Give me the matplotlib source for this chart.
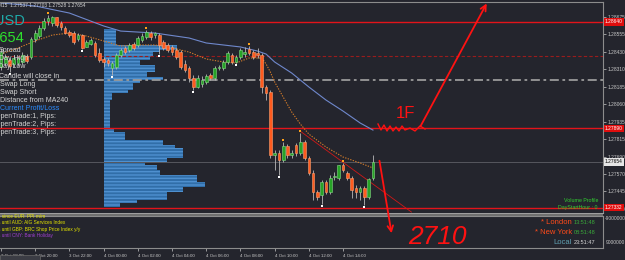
import numpy as np
import matplotlib.pyplot as plt
from matplotlib.patches import Rectangle

plt.rcParams['font.family'] = ['Liberation Sans', 'DejaVu Sans']

# GBPUSD M15 bars, 3 Oct 18:00 .. 4 Oct 15:45
opens = [1.28323, 1.28351, 1.28372, 1.28344, 1.28351, 1.28358, 1.28400, 1.28393, 1.28520, 1.28541,
         1.28598, 1.28647, 1.28633, 1.28675, 1.28633, 1.28598, 1.28569, 1.28562, 1.28520, 1.28548,
         1.28464, 1.28485, 1.28492, 1.28421, 1.28379, 1.28372, 1.28316, 1.28323, 1.28407, 1.28457,
         1.28442, 1.28485, 1.28478, 1.28513, 1.28534, 1.28562, 1.28548, 1.28548, 1.28499, 1.28478,
         1.28464, 1.28442, 1.28428, 1.28344, 1.28316, 1.28245, 1.28182, 1.28203, 1.28217, 1.28266,
         1.28245, 1.28316, 1.28316, 1.28358, 1.28407, 1.28358, 1.28393, 1.28414, 1.28450, 1.28428,
         1.28421, 1.28407, 1.28182, 1.28146, 1.27702, 1.27716, 1.27667, 1.27766, 1.27702, 1.27773,
         1.27716, 1.27794, 1.27681, 1.27575, 1.27441, 1.27420, 1.27512, 1.27441, 1.27547, 1.27540,
         1.27632, 1.27575, 1.27540, 1.27470, 1.27441, 1.27470, 1.27406, 1.27537]
highs = [1.28457, 1.28414, 1.28386, 1.28407, 1.28400, 1.28428, 1.28414, 1.28534, 1.28583, 1.28619,
         1.28668, 1.28689, 1.28682, 1.28675, 1.28647, 1.28612, 1.28583, 1.28576, 1.28562, 1.28555,
         1.28513, 1.28527, 1.28506, 1.28457, 1.28393, 1.28386, 1.28365, 1.28421, 1.28457, 1.28471,
         1.28492, 1.28499, 1.28541, 1.28562, 1.28583, 1.28576, 1.28569, 1.28562, 1.28513, 1.28492,
         1.28478, 1.28457, 1.28442, 1.28372, 1.28330, 1.28266, 1.28266, 1.28259, 1.28273, 1.28280,
         1.28330, 1.28337, 1.28372, 1.28435, 1.28421, 1.28407, 1.28457, 1.28464, 1.28471, 1.28442,
         1.28457, 1.28421, 1.28196, 1.28160, 1.27737, 1.27737, 1.27794, 1.27780, 1.27737, 1.27787,
         1.27857, 1.27808, 1.27695, 1.27596, 1.27455, 1.27526, 1.27526, 1.27561, 1.27582, 1.27632,
         1.27646, 1.27589, 1.27554, 1.27491, 1.27484, 1.27484, 1.27540, 1.27703]
lows = [1.28301, 1.28330, 1.28287, 1.28323, 1.28330, 1.28344, 1.28351, 1.28379, 1.28499, 1.28527,
        1.28583, 1.28619, 1.28612, 1.28605, 1.28583, 1.28555, 1.28534, 1.28485, 1.28506, 1.28450,
        1.28464, 1.28478, 1.28393, 1.28358, 1.28323, 1.28330, 1.28266, 1.28309, 1.28393, 1.28414,
        1.28428, 1.28442, 1.28464, 1.28499, 1.28520, 1.28513, 1.28527, 1.28414, 1.28442, 1.28428,
        1.28407, 1.28379, 1.28309, 1.28287, 1.28217, 1.28160, 1.28175, 1.28182, 1.28203, 1.28231,
        1.28231, 1.28301, 1.28301, 1.28344, 1.28344, 1.28351, 1.28379, 1.28393, 1.28407, 1.28379,
        1.28386, 1.28139, 1.28090, 1.27681, 1.27596, 1.27561, 1.27653, 1.27681, 1.27681, 1.27695,
        1.27702, 1.27667, 1.27561, 1.27385, 1.27385, 1.27357, 1.27427, 1.27427, 1.27526, 1.27526,
        1.27582, 1.27526, 1.27399, 1.27399, 1.27385, 1.27350, 1.27392, 1.27528]
closes = [1.28428, 1.28393, 1.28330, 1.28386, 1.28386, 1.28407, 1.28365, 1.28520, 1.28562, 1.28598,
          1.28647, 1.28668, 1.28675, 1.28619, 1.28605, 1.28562, 1.28548, 1.28499, 1.28548, 1.28457,
          1.28499, 1.28513, 1.28407, 1.28372, 1.28358, 1.28351, 1.28351, 1.28407, 1.28442, 1.28428,
          1.28478, 1.28457, 1.28527, 1.28541, 1.28569, 1.28534, 1.28562, 1.28478, 1.28457, 1.28442,
          1.28428, 1.28393, 1.28323, 1.28301, 1.28245, 1.28182, 1.28245, 1.28231, 1.28259, 1.28245,
          1.28316, 1.28323, 1.28358, 1.28421, 1.28358, 1.28393, 1.28442, 1.28428, 1.28421, 1.28393,
          1.28407, 1.28182, 1.28139, 1.27702, 1.27716, 1.27667, 1.27766, 1.27702, 1.27716, 1.27716,
          1.27794, 1.27681, 1.27575, 1.27441, 1.27406, 1.27512, 1.27441, 1.27540, 1.27554, 1.27632,
          1.27596, 1.27540, 1.27455, 1.27441, 1.27470, 1.27406, 1.27533, 1.27654]

up_fractals = [11, 34, 58, 66, 70, 80]
down_fractals = [2, 19, 26, 37, 45, 55, 65, 75, 85]

# moving averages, read at some bars
ma240_idx = [0, 8, 16, 24, 28, 36, 44, 48, 56, 60, 62, 64, 68, 72, 76, 80, 84, 87]
ma240_val = [1.28774, 1.28753, 1.28703, 1.28612, 1.28576, 1.28562, 1.28527, 1.28492, 1.28464,
             1.28435, 1.28414, 1.28358, 1.28280, 1.28182, 1.28090, 1.28012, 1.27928, 1.27878]
mafast_idx = [0, 4, 8, 12, 16, 20, 24, 28, 32, 36, 40, 44, 48, 52, 55, 58, 61, 62, 63, 64,
              66, 68, 70, 72, 76, 80, 84, 87]
mafast_val = [1.28414, 1.28457, 1.28506, 1.28548, 1.28562, 1.28541, 1.28506, 1.28471, 1.28478,
              1.28478, 1.28457, 1.28428, 1.28379, 1.28358, 1.28351, 1.28386, 1.28386, 1.28344,
              1.28287, 1.28217, 1.28111, 1.28005, 1.27921, 1.27850, 1.27759, 1.27688, 1.27646,
              1.27611]

# volume profile from day start (4 Oct 00:00 = bar 24)
vp_edges = [1.28591, 1.28478, 1.28442, 1.28428, 1.28393, 1.28372, 1.28337, 1.28287, 1.28252,
            1.28231, 1.28210, 1.28160, 1.28139, 1.28090, 1.27893, 1.27864, 1.27808, 1.27773,
            1.27752, 1.27681, 1.27653, 1.27632, 1.27596, 1.27561, 1.27512, 1.27477, 1.27441,
            1.27385, 1.27364, 1.27336]
vp_vol = [12, 73, 56, 49, 46, 36, 51, 43, 59, 36, 29, 24, 8, 6, 10, 21, 59, 71, 79, 63, 41,
          53, 56, 93, 101, 79, 63, 33, 16]
vp_start = 24

time_ticks = [0, 8, 16, 24, 32, 40, 48, 56, 64, 72, 80]
time_labels = ['3 Oct 18:00', '3 Oct 20:00', '3 Oct 22:00', '4 Oct 00:00', '4 Oct 02:00',
               '4 Oct 04:00', '4 Oct 06:00', '4 Oct 08:00', '4 Oct 10:00', '4 Oct 12:00',
               '4 Oct 14:00']
price_ticks = [1.28675, 1.28555, 1.28430, 1.28310, 1.28185, 1.28060, 1.27935, 1.27815,
               1.27690, 1.27570, 1.27445, 1.27320]

red_levels = [1.28640, 1.27890, 1.27332]
dashed_level = 1.28400
dashdot_level = 1.28231
bid = 1.27654
trend_x = [70, 96]
trend_y = [1.27870, 1.27300]

W, H = 625, 260
bg = '#24252d'
grey = '#8c8c8c'
txt = '#d6d6d6'
hand = '#ff1212'

fig = plt.figure(figsize=(W / 100, H / 100), dpi=100, facecolor=bg)


def box(x0, y0, x1, y1):
    return [x0 / W, 1 - y1 / H, (x1 - x0) / W, (y1 - y0) / H]


ax = fig.add_axes(box(0, 2, 603, 213))
ax.set_facecolor(bg)
ax.set_xlim(-0.23, 140.8)
ax.set_ylim(1.272934, 1.287809)

# volume profile
e = np.array(vp_edges)
ax.barh((e[:-1] + e[1:]) / 2, np.array(vp_vol) / 4.275, left=vp_start, height=e[:-1] - e[1:],
        color='#316ea8', edgecolor='#4f90cf', hatch='-----', linewidth=0, zorder=1)

# levels
for p in red_levels:
    ax.axhline(p, color='#e3141a', lw=1.0, zorder=2)
ax.axhline(dashed_level, color='#9a1c1c', lw=0.8, ls=(0, (3, 2)), zorder=2)
ax.axhline(dashdot_level, color='#9a9a9a', lw=1.3, ls=(0, (5, 2, 1.5, 2)), zorder=2)
ax.axhline(bid, color='#56575e', lw=0.7, zorder=2)

ax.plot(ma240_idx, ma240_val, color='#6f88cc', lw=0.8, zorder=2)
ax.plot(mafast_idx, mafast_val, color='#d07a2a', lw=0.8, ls=(0, (1.2, 1.2)), zorder=2)
ax.plot(trend_x, trend_y, color='#d01818', lw=0.6, zorder=2)

# candles
o, h, l, c = map(np.array, (opens, highs, lows, closes))
idx = np.arange(len(o))
up = c >= o
ax.vlines(idx, l, h, color='#b8b8b8', lw=0.6, zorder=3)
ax.bar(idx, np.maximum(np.abs(c - o), 0.00003), bottom=np.minimum(o, c), width=0.62,
       color=np.where(up, '#27a327', '#ff5b1f'), edgecolor=np.where(up, '#86d986', '#ffa070'),
       linewidth=0.4, zorder=4)
ax.scatter(up_fractals, h[up_fractals] + 0.00012, marker='s', s=4, color='#ffa31a',
           linewidths=0, zorder=5)
ax.scatter(down_fractals, l[down_fractals] - 0.00012, marker='s', s=4, color='white',
           linewidths=0, zorder=5)

ax.yaxis.tick_right()
ax.set_yticks(price_ticks)
ax.set_yticklabels([f'{p:.5f}' for p in price_ticks])
ax.tick_params(axis='y', colors='#c8c8c8', labelsize=3.5, length=2, width=0.5, pad=1)
ax.set_xticks([])
for s in ['left', 'bottom']:
    ax.spines[s].set_visible(False)
for s in ['top', 'right']:
    ax.spines[s].set_color(grey)
    ax.spines[s].set_linewidth(0.8)

for p in red_levels:
    ax.text(1.003, p, f'{p:.5f}', transform=ax.get_yaxis_transform(), ha='left', va='center',
            fontsize=3.5, color='white', clip_on=False, zorder=10,
            bbox=dict(boxstyle='square,pad=0.25', fc='#e00d0d', ec='none'))
ax.text(1.003, bid, f'{bid:.5f}', transform=ax.get_yaxis_transform(), ha='left', va='center',
        fontsize=3.5, color='black', clip_on=False, zorder=10,
        bbox=dict(boxstyle='square,pad=0.25', fc='#e6e6e6', ec='none'))

# sub window with time scale
sub = fig.add_axes(box(0, 216, 603, 248))
sub.set_facecolor(bg)
sub.set_xlim(ax.get_xlim())
sub.set_yticks([])
sub.set_xticks(time_ticks)
sub.set_xticklabels(time_labels)
for lab in sub.get_xticklabels():
    lab.set_ha('left')
sub.tick_params(axis='x', colors='#c8c8c8', labelsize=3.2, length=2.5, width=0.5, pad=1.5)
sub.spines['left'].set_visible(False)
for s in ['top', 'right', 'bottom']:
    sub.spines[s].set_color(grey)
    sub.spines[s].set_linewidth(0.8)

# overlay for texts and hand drawings
ov = fig.add_axes([0, 0, 1, 1], zorder=20)
ov.set_xlim(0, W)
ov.set_ylim(H, 0)
ov.axis('off')

ov.add_patch(Rectangle((0, 213), 603, 3, fc='#6f6f6f', ec='none'))
ov.plot([0, 603], [213.3, 213.3], color='#a8a8a8', lw=0.6)
ov.add_patch(Rectangle((0, 255), 40, 5, fc='#3b3c44', ec='#6a6a6a', lw=0.5))

ov.text(85, 5, 'GBPUSD,M15  1.27537 1.27703 1.27528 1.27654', ha='right', va='center',
        fontsize=3.5, color=txt)
ov.text(25, 21, 'GBPUSD', ha='right', va='center', fontsize=10.5, color='#1fa9a9')
ov.text(25, 37.5, '1.27654', ha='right', va='center', fontsize=10.5, color='#2ee02e')

info = [('Spread', 51, -1), ('Day High', 59, -1), ('Day Low', 67, -2),
        ('Candle will close in', 76, -1), ('Swap Long', 85, 0), ('Swap Short', 93, 0),
        ('Distance from MA240', 101, 0), ('Current Profit/Loss', 109, 0),
        ('OpenTrade:1, Pips:', 117, -5), ('OpenTrade:2, Pips:', 124.5, -5),
        ('OpenTrade:3, Pips:', 132, -5)]
for s, y, x in info:
    ov.text(x, y, s, ha='left', va='center', fontsize=5,
            color='#2a8cff' if s.startswith('Current') else txt)

news = [('s since EUR: PPI m/m', 217, '#e6e600'), ('s until AUD: AIG Services Index', 223, '#e6e600'),
        ('s until GBP: BRC Shop Price Index y/y', 229, '#e6e600'),
        ('s until CNY: Bank Holiday', 235, '#a040d0')]
for s, y, col in news:
    ov.text(-2, y, s, ha='left', va='center', fontsize=3.4, color=col)

clocks = [('* London', '13:51:48', 222, '#ff4a1a', '#3aaa3a'),
          ('* New York', '08:51:48', 232.5, '#ff4a1a', '#3aaa3a'),
          ('Local', '23:51:47', 243, '#5f9fb0', txt)]
for name, t, y, c1, c2 in clocks:
    ov.text(572, y, name, ha='right', va='center', fontsize=5.5, color=c1)
    ov.text(574, y, t, ha='left', va='center', fontsize=4, color=c2)

ov.text(598, 200, 'Volume Profile', ha='right', va='center', fontsize=3.8, color='#30d030')
ov.text(598, 208, 'DayStartHour : 0', ha='right', va='center', fontsize=3.8, color='#30d030')
ov.text(605, 219, '-9000000', ha='left', va='center', fontsize=3.5, color='#c8c8c8')
ov.text(606, 243, '9000000', ha='left', va='center', fontsize=3.5, color='#c8c8c8')

# hand drawings
ov.annotate('', xy=(488, 1), xytext=(419, 129),
            arrowprops=dict(arrowstyle='->', color=hand, lw=1.3))
ov.annotate('', xy=(392, 236), xytext=(379, 158),
            arrowprops=dict(arrowstyle='->', color=hand, lw=1.3))
ov.plot([378, 381, 384, 387, 390, 393, 396, 399, 402, 405, 410, 415, 420, 425],
        [124, 130, 125, 131, 126, 131, 127, 131, 126, 130, 128, 131, 126, 129], color=hand, lw=1.0)
ov.text(405, 114, '1F', ha='center', va='center', fontsize=12, color=hand)
ov.text(437, 237, '2710', ha='center', va='center', fontsize=19, color=hand,
        fontstyle='italic')

fig.savefig('out.png', dpi=100, facecolor=bg)
